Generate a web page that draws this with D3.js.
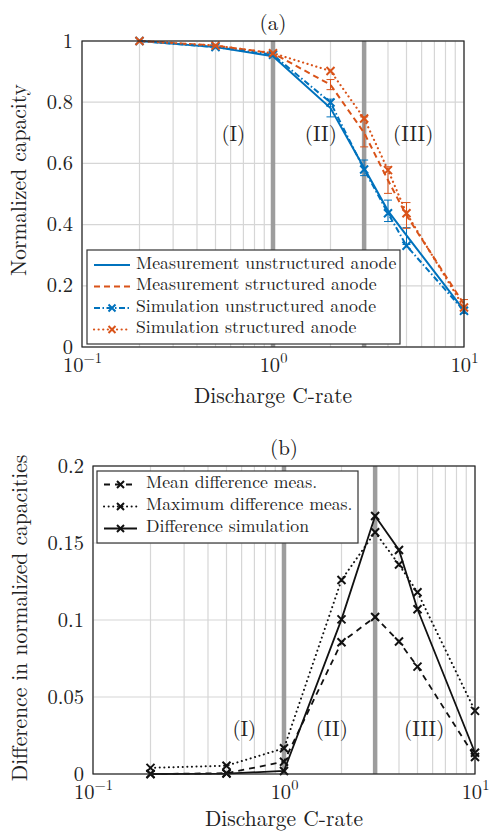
<!DOCTYPE html>
<html>
<head>
<meta charset="utf-8">
<script src="https://cdn.jsdelivr.net/npm/d3@7/dist/d3.min.js"></script>
<style>
  body { margin: 0; background: #fff; }
</style>
</head>
<body>
<script>
const w = 489;
const h = 832;
const font = "'Latin Modern Roman', 'Liberation Serif', serif";

// data
const cRates = [0.2, 0.5, 1, 2, 3, 4, 5, 10];
const measUnstructured = [1.0, 0.98, 0.95, 0.781, 0.585, 0.445, 0.365, 0.12];
const measUnstructuredLow = [1.0, 0.975, 0.945, 0.752, 0.56, 0.41, 0.335, 0.11];
const measUnstructuredHigh = [1.0, 0.985, 0.955, 0.81, 0.611, 0.48, 0.39, 0.13];
const measStructured = [1.0, 0.985, 0.96, 0.857, 0.70, 0.545, 0.43, 0.14];
const measStructuredLow = [1.0, 0.98, 0.955, 0.841, 0.654, 0.502, 0.388, 0.13];
const measStructuredHigh = [1.0, 0.99, 0.965, 0.874, 0.752, 0.589, 0.472, 0.155];
const simUnstructured = [1.0, 0.98, 0.955, 0.799, 0.58, 0.437, 0.331, 0.118];
const simStructured = [1.0, 0.985, 0.96, 0.902, 0.747, 0.578, 0.437, 0.129];

const meanDiff = [0.0, 0.0005, 0.008, 0.0855, 0.102, 0.086, 0.0697, 0.011];
const maxDiff = [0.004, 0.0054, 0.0167, 0.126, 0.157, 0.136, 0.118, 0.041];
const simDiff = [0.0, 0.0003, 0.002, 0.1004, 0.1675, 0.1455, 0.107, 0.0138];

const regionBounds = [1, 3];
const regionLabels = ["(I)", "(II)", "(III)"];
const regionLabelX = [0.62, 1.78, 5.42];

const xTicks = [0.1, 1, 10];
const xTickExp = ["\u22121", "0", "1"];
const yTicksA = [0, 0.2, 0.4, 0.6, 0.8, 1];
const yTicksB = [0, 0.05, 0.1, 0.15, 0.2];

const legendA = ["Measurement unstructured anode", "Measurement structured anode",
                 "Simulation unstructured anode", "Simulation structured anode"];
const legendB = ["Mean difference meas.", "Maximum difference meas.", "Difference simulation"];

const blue = "#0072bd";
const orange = "#d95319";

const svg = d3.select("body").append("svg")
    .attr("width", w)
    .attr("height", h)
    .attr("font-family", font);

function panel(opt) {
    const g = svg.append("g");
    const xScale = d3.scaleLog().domain([0.1, 10]).range([opt.left, opt.right]);
    const yScale = d3.scaleLinear().domain(opt.yDomain).range([opt.bottom, opt.top]);

    // grid
    g.append("g").selectAll("line")
        .data(xScale.ticks())
        .enter().append("line")
        .attr("x1", d => xScale(d)).attr("x2", d => xScale(d))
        .attr("y1", opt.top).attr("y2", opt.bottom)
        .attr("stroke", "#d6d6d6").attr("stroke-width", 1.2);
    g.append("g").selectAll("line")
        .data(opt.yTicks)
        .enter().append("line")
        .attr("x1", opt.left).attr("x2", opt.right)
        .attr("y1", d => yScale(d)).attr("y2", d => yScale(d))
        .attr("stroke", "#d6d6d6").attr("stroke-width", 1.2);

    // region boundaries
    g.append("g").selectAll("line")
        .data(regionBounds)
        .enter().append("line")
        .attr("x1", d => xScale(d)).attr("x2", d => xScale(d))
        .attr("y1", opt.top).attr("y2", opt.bottom)
        .attr("stroke", "#9d9d9d").attr("stroke-width", 4.5);

    g.append("g").selectAll("text")
        .data(regionLabels)
        .enter().append("text")
        .attr("x", (d, i) => xScale(regionLabelX[i]))
        .attr("y", yScale(opt.regionY))
        .attr("text-anchor", "middle")
        .attr("dominant-baseline", "middle")
        .attr("font-size", 21)
        .attr("fill", "#222")
        .text(d => d);

    // axes
    const xAxis = d3.axisBottom(xScale).tickValues(xTicks).tickSize(0).tickPadding(6)
        .tickFormat(d => "10");
    const gx = g.append("g")
        .attr("transform", "translate(0," + opt.bottom + ")")
        .call(xAxis);
    gx.attr("font-family", font);
    gx.select(".domain").remove();
    gx.selectAll("text")
        .attr("font-size", 20.5)
        .attr("fill", "#222")
        .attr("dy", "0.92em")
        .append("tspan")
        .attr("font-size", 14.5)
        .attr("dy", "-0.62em")
        .text((d, i) => xTickExp[i]);

    const yAxis = d3.axisLeft(yScale).tickValues(opt.yTicks).tickSize(0).tickPadding(9)
        .tickFormat(d3.format("~g"));
    const gy = g.append("g")
        .attr("transform", "translate(" + opt.left + ",0)")
        .call(yAxis);
    gy.attr("font-family", font);
    gy.select(".domain").remove();
    gy.selectAll("text").attr("font-size", 20.5).attr("fill", "#222").attr("dy", "0.3em");

    // series
    opt.series.forEach(function(s) {
        const pts = cRates.map((c, i) => [c, s.values[i]]);
        if (s.low) {
            const eb = g.append("g").attr("stroke", s.color).attr("stroke-width", 1);
            cRates.forEach(function(c, i) {
                if (s.high[i] - s.low[i] < 0.012) return;
                const x = xScale(c);
                eb.append("line").attr("x1", x).attr("x2", x)
                    .attr("y1", yScale(s.low[i])).attr("y2", yScale(s.high[i]));
                eb.append("line").attr("x1", x - 4).attr("x2", x + 4)
                    .attr("y1", yScale(s.low[i])).attr("y2", yScale(s.low[i]));
                eb.append("line").attr("x1", x - 4).attr("x2", x + 4)
                    .attr("y1", yScale(s.high[i])).attr("y2", yScale(s.high[i]));
            });
        }
        g.append("path")
            .datum(pts)
            .attr("fill", "none")
            .attr("stroke", s.color)
            .attr("stroke-width", s.width)
            .attr("stroke-dasharray", s.dash)
            .attr("stroke-linecap", s.cap || "butt")
            .attr("d", d3.line().x(d => xScale(d[0])).y(d => yScale(d[1])));
        if (s.marker) {
            g.append("g").selectAll("path")
                .data(pts)
                .enter().append("path")
                .attr("d", "M-4,-4L4,4M-4,4L4,-4")
                .attr("transform", d => "translate(" + xScale(d[0]) + "," + yScale(d[1]) + ")")
                .attr("stroke", s.color)
                .attr("stroke-width", 2)
                .attr("fill", "none");
        }
    });

    // frame
    g.append("rect")
        .attr("x", opt.left).attr("y", opt.top)
        .attr("width", opt.right - opt.left).attr("height", opt.bottom - opt.top)
        .attr("fill", "none").attr("stroke", "#222").attr("stroke-width", 1.2);

    // legend
    const L = opt.legend;
    const lg = g.append("g");
    lg.append("rect")
        .attr("x", L.x).attr("y", L.y).attr("width", L.w).attr("height", L.h)
        .attr("fill", "#fff").attr("stroke", "#333").attr("stroke-width", 1.2);
    opt.series.forEach(function(s, i) {
        const y = L.y + L.first + i * L.step;
        lg.append("line")
            .attr("x1", L.x + 7).attr("x2", L.x + 7 + L.sample)
            .attr("y1", y).attr("y2", y)
            .attr("stroke", s.color)
            .attr("stroke-width", s.width)
            .attr("stroke-dasharray", s.dash)
            .attr("stroke-linecap", s.cap || "butt");
        if (s.marker) {
            lg.append("path")
                .attr("d", "M-3.5,-3.5L3.5,3.5M-3.5,3.5L3.5,-3.5")
                .attr("transform", "translate(" + (L.x + 7 + L.sample / 2) + "," + y + ")")
                .attr("stroke", s.color).attr("stroke-width", 2);
        }
        lg.append("text")
            .attr("x", L.x + 7 + L.sample + L.gap)
            .attr("y", y)
            .attr("dominant-baseline", "middle")
            .attr("font-size", L.font)
            .attr("fill", "#222")
            .text(L.labels[i]);
    });

    // titles
    svg.append("text")
        .attr("x", (opt.left + opt.right) / 2).attr("y", opt.top - 11)
        .attr("text-anchor", "middle").attr("font-size", 21)
        .attr("fill", "#222")
        .text(opt.title);
    svg.append("text")
        .attr("x", (opt.left + opt.right) / 2).attr("y", opt.xLabelY)
        .attr("text-anchor", "middle").attr("font-size", 21.5)
        .attr("fill", "#222")
        .text("Discharge C-rate");
    svg.append("text")
        .attr("transform", "translate(" + opt.yLabelX + "," + opt.yLabelMid + ") rotate(-90)")
        .attr("text-anchor", "middle").attr("dominant-baseline", "middle")
        .attr("font-size", 21.5)
        .attr("fill", "#222")
        .text(opt.yLabel);
}

panel({
    left: 82, right: 464, top: 41, bottom: 347,
    yDomain: [0, 1], yTicks: yTicksA, regionY: 0.687,
    title: "(a)", yLabel: "Normalized capacity", yLabelX: 21, yLabelMid: 180, xLabelY: 403,
    series: [
        { values: measUnstructured, low: measUnstructuredLow, high: measUnstructuredHigh,
          color: blue, width: 2, dash: null },
        { values: measStructured, low: measStructuredLow, high: measStructuredHigh,
          color: orange, width: 2, dash: "6,4" },
        { values: simUnstructured, color: blue, width: 2, dash: "6,2.5,1.5,2.5", marker: true },
        { values: simStructured, color: orange, width: 2.2, dash: "0.1,4.5", cap: "round", marker: true }
    ],
    legend: { x: 87, y: 250, w: 313, h: 94, first: 15, step: 21.5, sample: 36, gap: 6,
              font: 17.7, labels: legendA }
});

panel({
    left: 93, right: 475, top: 466, bottom: 774,
    yDomain: [0, 0.2], yTicks: yTicksB, regionY: 0.0275,
    title: "(b)", yLabel: "Difference in normalized capacities", yLabelX: 22, yLabelMid: 618, xLabelY: 826,
    series: [
        { values: meanDiff, color: "#111", width: 1.8, dash: "6,5", marker: true },
        { values: maxDiff, color: "#111", width: 2, dash: "0.1,4.5", cap: "round", marker: true },
        { values: simDiff, color: "#111", width: 1.8, dash: null, marker: true }
    ],
    legend: { x: 97, y: 471, w: 261, h: 72, first: 13.5, step: 22, sample: 33, gap: 9,
              font: 17.7, labels: legendB }
});
</script>
</body>
</html>
